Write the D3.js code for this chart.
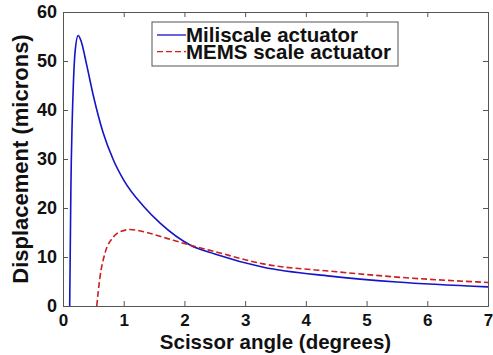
<!DOCTYPE html>
<html>
<head>
<meta charset="utf-8">
<script src="https://cdn.jsdelivr.net/npm/d3@7"></script>
<style>
  body { margin: 0; background: #fff; }
  text { font-family: Arial, "Liberation Sans", sans-serif; font-weight: bold; fill: #111; }
</style>
</head>
<body>
<div id="chart"></div>
<script>
var W = 493, H = 355
var margin = {left: 63, right: 5, top: 12, bottom: 49}

var mili_x = [0.11, 0.12, 0.13, 0.15, 0.17, 0.2, 0.25, 0.3, 0.39, 0.5, 0.66, 0.83, 1.0, 1.33, 1.6, 2.1, 2.5, 3.3, 4.4, 5.5, 7.0]
var mili_y = [0, 12, 24, 37, 45, 52, 55.2, 54, 49.2, 42.9, 35.4, 29.8, 25.7, 20.3, 16.9, 12.4, 10.6, 7.9, 6.1, 4.9, 3.9]
var mems_x = [0.556, 0.61, 0.69, 0.83, 0.95, 1.1, 1.38, 1.71, 2.1, 2.5, 3.3, 4.5, 5.5, 7.0]
var mems_y = [0, 6.0, 10.7, 14.1, 15.2, 15.6, 15.0, 13.8, 12.4, 11.1, 8.6, 7.0, 5.9, 4.8]
var xticks = [0, 1, 2, 3, 4, 5, 6, 7]
var yticks = [0, 10, 20, 30, 40, 50, 60]
var series_names = ["Miliscale actuator", "MEMS scale actuator"]
var colors = ["#1414c8", "#cc2020"]

var svg = d3.select("#chart").append("svg")
  .attr("width", W).attr("height", H)

var iw = W - margin.left - margin.right
var ih = H - margin.top - margin.bottom

var x = d3.scaleLinear().domain([0, 7]).range([margin.left, margin.left + iw])
var y = d3.scaleLinear().domain([0, 60]).range([margin.top + ih, margin.top])

function pts(xs, ys) {
  return xs.map(function(v, i) { return [v, ys[i]] })
}

var line = d3.line()
  .x(function(d) { return x(d[0]) })
  .y(function(d) { return y(d[1]) })
  .curve(d3.curveMonotoneX)

// curves
svg.append("path").datum(pts(mili_x, mili_y))
  .attr("d", line).attr("fill", "none")
  .attr("stroke", colors[0]).attr("stroke-width", 1.6)

svg.append("path").datum(pts(mems_x, mems_y))
  .attr("d", line).attr("fill", "none")
  .attr("stroke", colors[1]).attr("stroke-width", 1.6)
  .attr("stroke-dasharray", "6,3")

// axes, ticks inside on all four sides
var gx = svg.append("g").attr("transform", "translate(0," + y(0) + ")")
  .call(d3.axisBottom(x).tickValues(xticks).tickSize(-5).tickPadding(8).tickFormat(d3.format("d")))
svg.append("g").attr("transform", "translate(0," + y(60) + ")")
  .call(d3.axisTop(x).tickValues(xticks).tickSize(-5).tickFormat(""))
var gy = svg.append("g").attr("transform", "translate(" + x(0) + ",0)")
  .call(d3.axisLeft(y).tickValues(yticks).tickSize(-5).tickPadding(6).tickFormat(d3.format("d")))
svg.append("g").attr("transform", "translate(" + x(7) + ",0)")
  .call(d3.axisRight(y).tickValues(yticks).tickSize(-5).tickFormat(""))

svg.selectAll(".domain").attr("stroke", "#555")
svg.selectAll(".tick line").attr("stroke", "#555")
gx.selectAll("text").style("font-size", "17px").attr("fill", "#111")
gy.selectAll("text").style("font-size", "18px").attr("fill", "#111")

// axis titles
svg.append("text")
  .attr("x", (x(0) + x(7)) / 2).attr("y", 349)
  .attr("text-anchor", "middle").style("font-size", "20.5px")
  .text("Scissor angle (degrees)")

svg.append("text")
  .attr("transform", "translate(28," + ((y(0) + y(60)) / 2) + ") rotate(-90)")
  .attr("text-anchor", "middle").style("font-size", "22px")
  .text("Displacement (microns)")

// legend
var lg = svg.append("g")
lg.append("rect")
  .attr("x", 152).attr("y", 22).attr("width", 246).attr("height", 44)
  .attr("fill", "#fff").attr("stroke", "#555")

series_names.forEach(function(name, i) {
  var cy = 35 + i * 16.7
  lg.append("line")
    .attr("x1", 157).attr("x2", 186).attr("y1", cy).attr("y2", cy)
    .attr("stroke", colors[i]).attr("stroke-width", 1.3)
    .attr("stroke-dasharray", i == 1 ? "6,3" : null)
  lg.append("text")
    .attr("x", 186).attr("y", cy + 7)
    .style("font-size", "20.5px")
    .text(name)
})
</script>
</body>
</html>
